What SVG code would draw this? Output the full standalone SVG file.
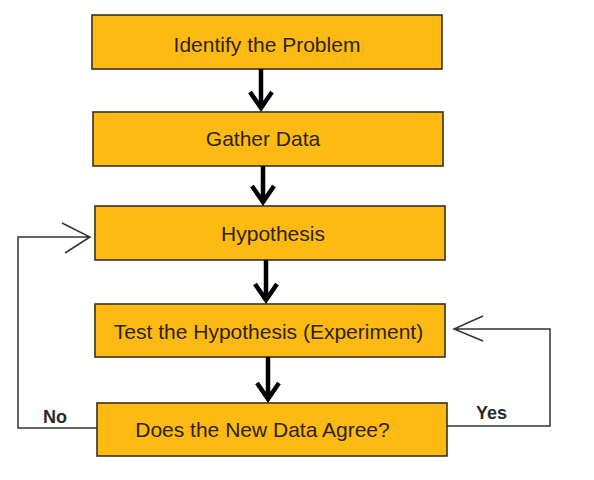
<svg xmlns="http://www.w3.org/2000/svg" width="594" height="480" viewBox="0 0 594 480">
<style>
.box{fill:#FDBA12;stroke:#3a3020;stroke-width:1.6}
.t{font-family:"Liberation Sans",Arial,sans-serif;font-size:21px;fill:#2e2410}
.lbl{font-family:"Liberation Sans",Arial,sans-serif;font-size:18px;font-weight:bold;fill:#2a2a2a}
.thick{fill:none;stroke:#000;stroke-width:4.5;stroke-linejoin:miter;stroke-linecap:butt}
.thin{fill:none;stroke:#333;stroke-width:1.5}
</style>
<rect width="594" height="480" fill="#fff"/>
<g id="n1"><rect class="box" x="92" y="15" width="350" height="54"/><text class="t" x="267" y="52" text-anchor="middle">Identify the Problem</text></g>
<g id="n2"><rect class="box" x="93" y="112" width="350" height="54"/><text class="t" x="263" y="146" text-anchor="middle">Gather Data</text></g>
<g id="n3"><rect class="box" x="95" y="206" width="350" height="54"/><text class="t" x="273" y="241" text-anchor="middle">Hypothesis</text></g>
<g id="n4"><rect class="box" x="95" y="304" width="350" height="53"/><text class="t" x="268.5" y="339" text-anchor="middle">Test the Hypothesis (Experiment)</text></g>
<g id="n5"><rect class="box" x="97" y="403" width="350" height="53"/><text class="t" x="262.5" y="437" text-anchor="middle">Does the New Data Agree?</text></g>
<g id="connectors">
<path class="thick" d="M261 69V108M250 92L261 108L272 92"/>
<path class="thick" d="M263 166V202M252 186L263 202L274 186"/>
<path class="thick" d="M266 260V300M255 284L266 300L277 284"/>
<path class="thick" d="M268 357V399M257 383L268 399L279 383"/>
<path class="thin" d="M97 428H18V237H90M62 223L90 237L65 253"/>
<path class="thin" d="M447 426H550V329H454M483 316L454 329L483 341"/>
<text class="lbl" x="43" y="423">No</text>
<text class="lbl" x="476" y="419">Yes</text>
</g>
</svg>
